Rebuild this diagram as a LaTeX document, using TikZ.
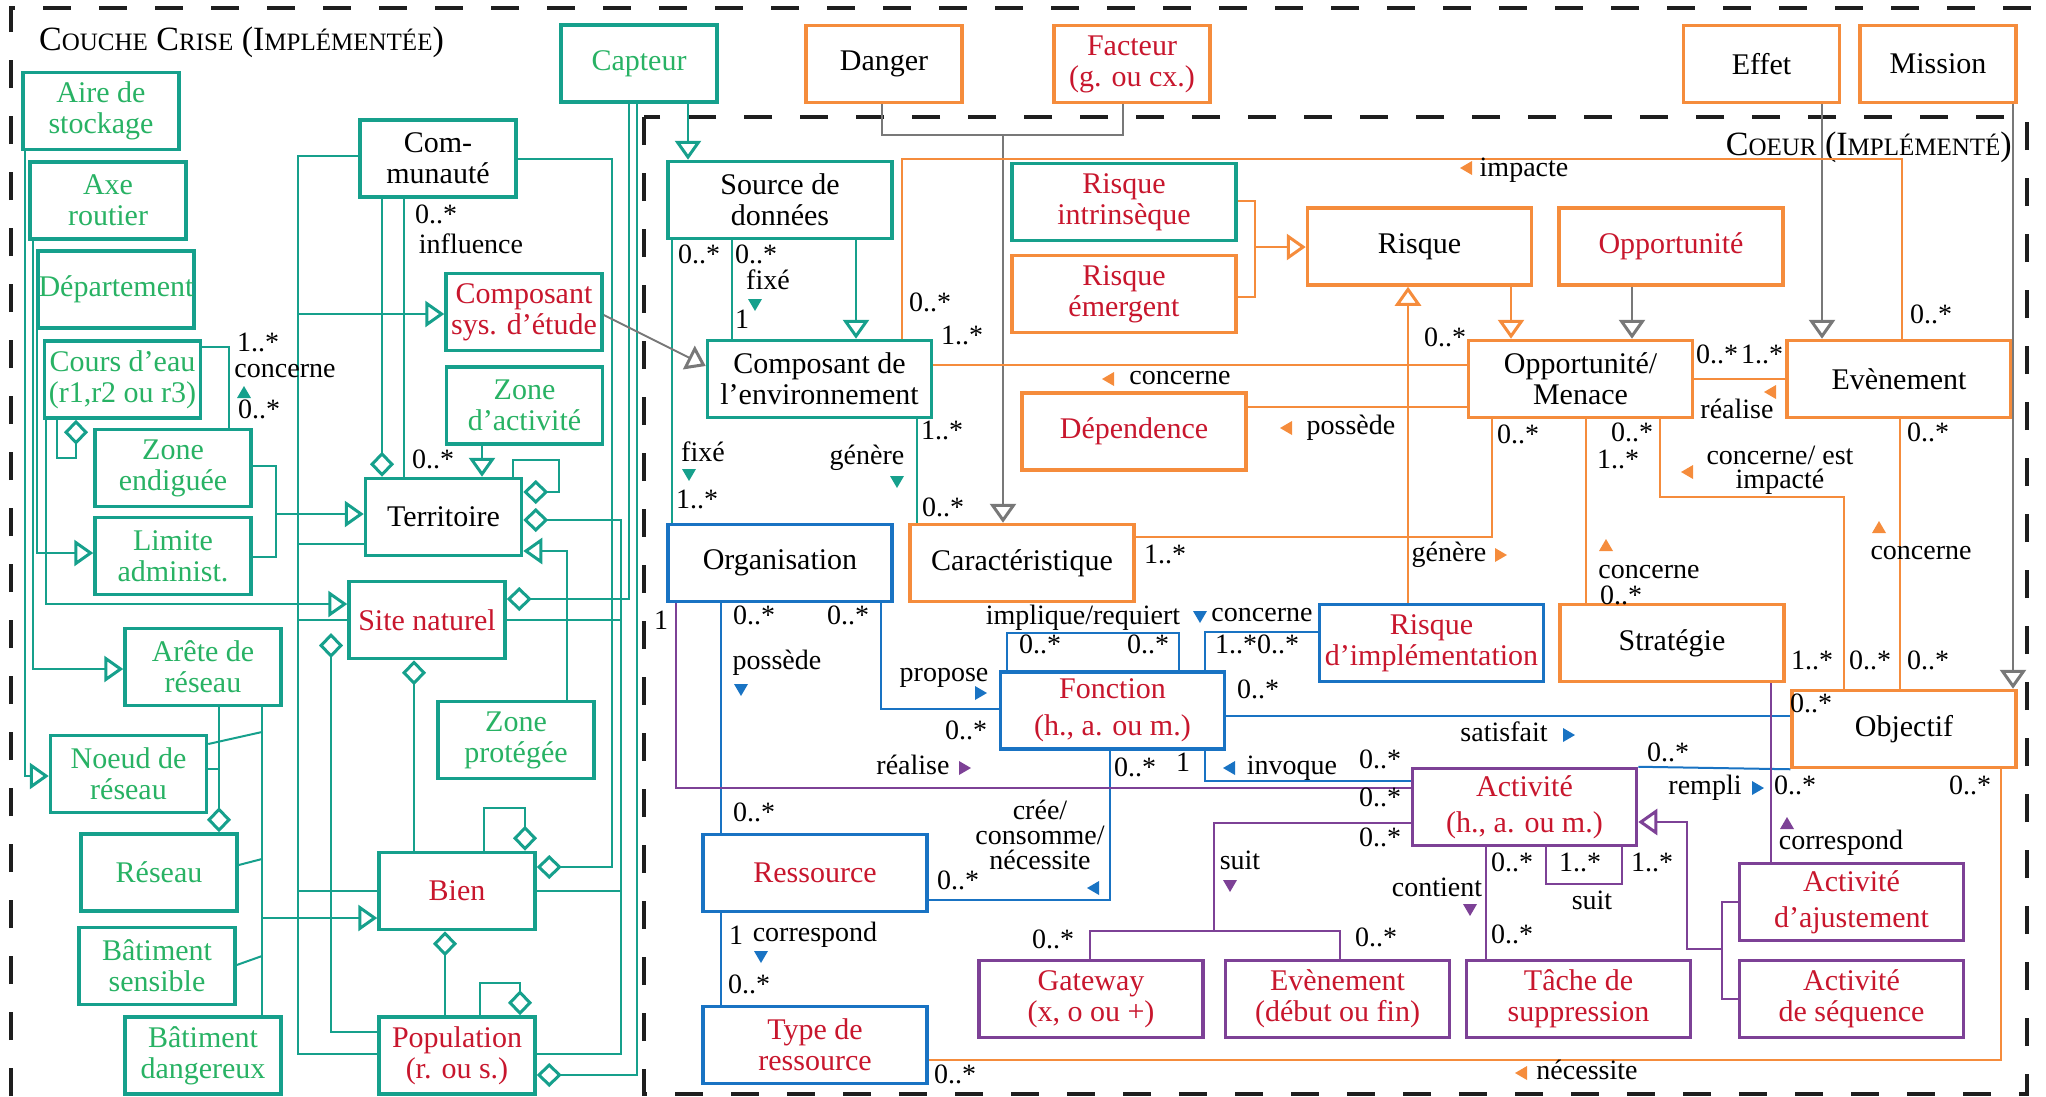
\documentclass[tikz,border=0pt]{standalone}
\usepackage{fontspec}
\setmainfont{Liberation Serif}
\usetikzlibrary{arrows.meta}
\definecolor{tealc}{RGB}{22,160,140}
\definecolor{greent}{RGB}{40,178,100}
\definecolor{redt}{RGB}{200,22,45}
\definecolor{orangec}{RGB}{245,140,60}
\definecolor{bluec}{RGB}{25,115,195}
\definecolor{purplec}{RGB}{125,65,150}
\definecolor{grayc}{RGB}{120,120,120}
\definecolor{dashc}{RGB}{30,30,30}
\newcommand\fsc[2]{#1{\fontsize{25}{25}\selectfont #2}}
\newcommand\mkR[3]{\fill[#3] (#1,#2) ++(6,0) -- ++(-12,-7) -- ++(0,14) -- cycle;}
\newcommand\mkL[3]{\fill[#3] (#1,#2) ++(-6,0) -- ++(12,-7) -- ++(0,14) -- cycle;}
\newcommand\mkD[3]{\fill[#3] (#1,#2) ++(0,6) -- ++(-7,-12) -- ++(14,0) -- cycle;}
\newcommand\mkU[3]{\fill[#3] (#1,#2) ++(0,-6) -- ++(-7,12) -- ++(14,0) -- cycle;}
\begin{document}
\begin{tikzpicture}[x=1pt,y=-1pt,
 box/.style={draw, fill=white, line width=3.5pt, align=center, inner sep=0pt, font=\fontsize{30}{31}\selectfont},
 sb/.style={box, minimum width=156pt, minimum height=77pt},
 lb/.style={box, minimum width=224pt, minimum height=77pt},
 tb/.style={draw=tealc}, ob/.style={draw=orangec}, bb/.style={draw=bluec}, pb/.style={draw=purplec},
 gt/.style={text=greent}, rt/.style={text=redt},
 lab/.style={inner sep=0pt, font=\fontsize{28}{29}\selectfont, text height=17pt, text depth=4pt},
 con/.style={line width=2pt},
 tl/.style={con, draw=tealc}, ol/.style={con, draw=orangec}, bl/.style={con, draw=bluec},
 pl/.style={con, draw=purplec}, gl/.style={con, draw=grayc},
 gen/.style={arrows={-Triangle[open,length=19pt,width=26pt,line width=3pt]}},
 agg/.style={arrows={Diamond[open,length=25pt,width=24pt,line width=3pt]-}},
 dsh/.style={draw=dashc, line width=3.5pt, dash pattern=on 28pt off 28pt}
]
\useasboundingbox (0,0) rectangle (2046,1096);
\draw[dsh] (11,1096) -- (11,8) -- (2032,8);
\draw[dsh] (644,117) rectangle (2027,1094);
\node[anchor=base west, inner sep=0pt] (ttl1) at (39,50) {\fontsize{34}{36}\selectfont\fsc{C}{OUCHE} \fsc{C}{RISE} \fsc{(I}{MPLÉMENTÉE})};
\node[anchor=base east, inner sep=0pt] (ttl2) at (2012,155) {\fontsize{34}{36}\selectfont\fsc{C}{OEUR} \fsc{(I}{MPLÉMENTÉ})};

% ---- Couche crise boxes
\node[sb,tb,gt] (aire) at (101,111) {Aire de\\stockage};
\node[sb,tb,gt] (axe) at (108,200.5) {Axe\\routier};
\node[sb,tb,gt] (dept) at (116,289.5) {Département};
\node[sb,tb,gt] (cours) at (122.5,379.5) {Cours d’eau\\(r1,r2 ou r3)};
\node[sb,tb] (communaute) at (438,158.5) {Com-\\munauté};
\node[sb,tb,rt] (compsys) at (524,312) {Composant\\sys. d’étude};
\node[sb,tb,gt] (capteur) at (639,63.5) {Capteur};
\node[sb,tb,gt] (zoneact) at (524.5,405.5) {Zone\\d’activité};
\node[sb,tb,gt] (zoneend) at (173,468) {Zone\\endiguée};
\node[sb,tb,gt] (limite) at (173,556) {Limite\\administ.};
\node[sb,tb] (territoire) at (443.5,517) {Territoire};
\node[sb,tb,rt] (site) at (427,620) {Site naturel};
\node[sb,tb,gt] (arete) at (203,667) {Arête de\\réseau};
\node[sb,tb,gt] (zoneprot) at (516,740) {Zone\\protégée};
\node[sb,tb,gt] (noeud) at (128.5,774) {Noeud de\\réseau};
\node[sb,tb,gt] (reseau) at (159,872.5) {Réseau};
\node[sb,tb,gt] (batsens) at (157,966) {Bâtiment\\sensible};
\node[sb,tb,gt] (batdang) at (203,1055.5) {Bâtiment\\dangereux};
\node[sb,tb,rt] (bien) at (457,891) {Bien};
\node[sb,tb,rt] (population) at (457,1055.5) {Population\\(r. ou s.)};

% ---- Core boxes
\node[sb,ob] (danger) at (884,64) {Danger};
\node[sb,ob,rt] (facteur) at (1132,64) {Facteur\\(g. ou cx.)};
\node[sb,ob] (effet) at (1761.5,64) {Effet};
\node[sb,ob] (mission) at (1938,64) {Mission};
\node[lb,tb] (source) at (780,200) {Source de\\données};
\node[lb,tb,rt] (rintr) at (1124,202) {Risque\\intrinsèque};
\node[lb,ob,rt] (remerg) at (1124,294) {Risque\\émergent};
\node[lb,ob] (risque) at (1419.5,246.5) {Risque};
\node[lb,ob,rt] (opportunite) at (1671,246.5) {Opportunité};
\node[lb,tb] (compenv) at (819.5,379) {Composant de\\l’environnement};
\node[lb,ob] (oppmen) at (1580.5,379) {Opportunité/\\Menace};
\node[lb,ob] (evenement) at (1899,379) {Evènement};
\node[lb,ob,rt] (dependence) at (1134,431.5) {Dépendence};
\node[lb,bb] (organisation) at (780,563) {Organisation};
\node[lb,ob] (caract) at (1022,563) {Caractéristique};
\node[lb,bb,rt] (risqimpl) at (1431.5,643) {Risque\\d’implémentation};
\node[lb,ob] (strategie) at (1672,643) {Stratégie};
\node[lb,bb,rt] (fonction) at (1112.5,710.5) {Fonction\\[6pt](h., a. ou m.)};
\node[lb,ob] (objectif) at (1904,729) {Objectif};
\node[lb,pb,rt] (activite) at (1524.5,807) {Activité\\[5pt](h., a. ou m.)};
\node[lb,bb,rt] (ressource) at (815,873) {Ressource};
\node[lb,bb,rt] (typeres) at (815,1045) {Type de\\ressource};
\node[lb,pb,rt] (gateway) at (1091,999) {Gateway\\(x, o ou +)};
\node[lb,pb,rt] (evdf) at (1337.5,999) {Evènement\\(début ou fin)};
\node[lb,pb,rt] (tache) at (1578.5,999) {Tâche de\\suppression};
\node[lb,pb,rt] (actajust) at (1851.5,902) {Activité\\[5pt]d’ajustement};
\node[lb,pb,rt] (actseq) at (1851.5,999) {Activité\\de séquence};

% ---- teal connectors
\draw[tl,gen] (aire.south -| 25,0) |- (noeud.west |- 0,776);
\draw[tl,gen] (axe.south -| 33,0) |- (arete.west |- 0,669);
\draw[tl,gen] (dept.south -| 37,0) |- (limite.west |- 0,553);
\draw[tl,gen] (cours.south -| 46,0) |- (site.west |- 0,604);
\draw[tl,agg] (cours.south -| 76,0) -- (76,458) -| (cours.south -| 57,0);
\draw[tl] (cours.east |- 0,347) -| (zoneend.north -| 229,0);
\draw[tl] (zoneend.east |- 0,466) -| (276,557) -- (limite.east |- 0,557);
\draw[tl,gen] (276,514) -- (territoire.west |- 0,514);
\draw[tl] (communaute.west |- 0,156) -| (298,1054) -- (population.west |- 0,1054);
\draw[tl,gen] (298,314) -- (compsys.west |- 0,314);
\draw[tl] (298,544) -- (territoire.west |- 0,544);
\draw[tl] (298,620) -- (site.west |- 0,620);
\draw[tl] (298,891) -- (bien.west |- 0,891);
\draw[tl,agg] (territoire.north -| 382,0) -- (communaute.south -| 382,0);
\draw[tl] (communaute.south -| 404,0) -- (territoire.north -| 404,0);
\draw[tl,gen] (zoneact.south -| 482,0) -- (territoire.north -| 482,0);
\draw[tl,agg] (territoire.east |- 0,492) -- (559,492) |- (513,460) -- (territoire.north -| 513,0);
\draw[tl,agg] (territoire.east |- 0,520) -| (621,1054) -- (population.east |- 0,1054);
\draw[tl] (site.east |- 0,620) -- (621,620);
\draw[tl] (bien.east |- 0,891) -- (621,891);
\draw[tl,gen] (zoneprot.north -| 567,0) |- (territoire.east |- 0,551);
\draw[tl,agg] (site.east |- 0,599) -| (capteur.south -| 629,0);
\draw[tl,agg] (population.east |- 0,1075) -| (capteur.south -| 637,0);
\draw[tl,agg] (bien.east |- 0,867) -| (612,159) -- (communaute.east |- 0,159);
\coordinate (sitediam) at (331,633);
\draw[tl,agg] (sitediam) -- (331,1032) -- (population.west |- 0,1032);
\draw[tl,agg] (site.south -| 414,0) -- (bien.north -| 414,0);
\draw[tl,agg] (bien.north -| 525,0) -- (525,808) -| (bien.north -| 484,0);
\draw[tl,agg] (bien.south -| 445,0) -- (population.north -| 445,0);
\draw[tl,agg] (population.north -| 520,0) -- (520,983) -| (population.north -| 480,0);
\draw[tl] (arete.south -| 262,0) -- (batdang.north -| 262,0);
\draw[tl,gen] (262,918) -- (bien.west |- 0,918);
\draw[tl] (noeud.east |- 0,744) -- (262,732);
\draw[tl] (reseau.east |- 0,865) -- (262,859);
\draw[tl] (batsens.east |- 0,965) -- (262,956);
\draw[tl,agg] (reseau.north -| 219,0) -- (arete.south -| 219,0);
\draw[tl] (noeud.east |- 0,769) -- (219,769);
\draw[tl,gen] (capteur.south -| 688,0) -- (source.north -| 688,0);
\draw[tl,gen] (source.south -| 856,0) -- (compenv.north -| 856,0);
\draw[tl] (source.south -| 732,0) -- (compenv.north -| 732,0);
\draw[tl] (source.south -| 672,0) -- (organisation.north -| 672,0);
\draw[tl] (compenv.south -| 917,0) -- (caract.north -| 917,0);

% ---- gray connectors
\draw[gl,gen] (compsys.east |- 0,315) -- (compenv.west |- 0,366);
\draw[gl] (danger.south -| 882,0) |- (1123,135) -- (facteur.south -| 1123,0);
\draw[gl,gen] (1003,135) -- (caract.north -| 1003,0);
\draw[gl,gen] (opportunite.south -| 1632,0) -- (oppmen.north -| 1632,0);
\draw[gl,gen] (effet.south -| 1822,0) -- (evenement.north -| 1822,0);
\draw[gl,gen] (mission.south -| 2013,0) -- (objectif.north -| 2013,0);

% ---- orange connectors
\draw[ol] (rintr.east |- 0,201) -| (1255,297) -- (remerg.east |- 0,297);
\draw[ol,gen] (1255,247) -- (risque.west |- 0,247);
\draw[ol,gen] (risque.south -| 1511,0) -- (oppmen.north -| 1511,0);
\draw[ol,gen] (risqimpl.north -| 1408,0) -- (risque.south -| 1408,0);
\draw[ol] (compenv.north -| 902,0) |- (1902,159) -- (evenement.north -| 1902,0);
\draw[ol] (compenv.east |- 0,365) -- (oppmen.west |- 0,365);
\draw[ol] (dependence.east |- 0,407) -- (oppmen.west |- 0,407);
\draw[ol] (caract.east |- 0,537) -| (oppmen.south -| 1492,0);
\draw[ol] (oppmen.east |- 0,379) -- (evenement.west |- 0,379);
\draw[ol] (oppmen.south -| 1586,0) -- (strategie.north -| 1586,0);
\draw[ol] (oppmen.south -| 1660,0) |- (1844,497) -- (objectif.north -| 1844,0);
\draw[ol] (evenement.south -| 1900,0) -- (objectif.north -| 1900,0);
\draw[ol] (typeres.east |- 0,1060) -| (objectif.south -| 2001,0);

% ---- blue connectors
\draw[bl] (organisation.south -| 721,0) -- (ressource.north -| 721,0);
\draw[bl] (organisation.south -| 881,0) |- (fonction.west |- 0,709);
\draw[bl] (fonction.north -| 1007,0) |- (1179,633) -- (fonction.north -| 1179,0);
\draw[bl] (fonction.north -| 1205,0) |- (risqimpl.west |- 0,632);
\draw[bl] (fonction.east |- 0,716) -- (objectif.west |- 0,716);
\draw[bl] (fonction.south -| 1205,0) |- (activite.west |- 0,781);
\draw[bl] (fonction.south -| 1110,0) |- (ressource.east |- 0,900);
\draw[bl] (ressource.south -| 721,0) -- (typeres.north -| 721,0);
\draw[bl] (activite.north east) -- (objectif.south west);

% ---- purple connectors
\draw[pl] (organisation.south -| 676,0) |- (activite.west |- 0,788);
\draw[pl] (activite.west |- 0,823) -| (1214,931);
\draw[pl] (gateway.north -| 1090,0) -- (1090,931) -- (1340,931) -- (evdf.north -| 1340,0);
\draw[pl] (activite.south -| 1486,0) -- (tache.north -| 1486,0);
\draw[pl] (activite.south -| 1546,0) |- (1622,884) -- (activite.south -| 1622,0);
\draw[pl] (actajust.west |- 0,902) -| (1722,999) -- (actseq.west |- 0,999);
\draw[pl,gen] (1722,949) -- (1687,949) -- (1687,822) -- (activite.east |- 0,822);
\draw[pl] (strategie.south -| 1771,0) -- (actajust.north -| 1771,0);

% ---- direction markers
\mkU{244}{392}{tealc} \mkD{755}{305}{tealc} \mkD{689}{475}{tealc} \mkD{897}{482}{tealc}
\mkL{1466}{168}{orangec} \mkL{1108}{379}{orangec} \mkL{1286}{428}{orangec} \mkR{1501}{555}{orangec}
\mkL{1770}{392}{orangec} \mkU{1606}{545}{orangec} \mkL{1687}{472}{orangec} \mkU{1879}{527}{orangec}
\mkL{1521}{1073}{orangec}
\mkD{741}{690}{bluec} \mkR{981}{693}{bluec} \mkD{1200}{617}{bluec} \mkL{1229}{768}{bluec}
\mkL{1093}{888}{bluec} \mkR{1569}{735}{bluec} \mkD{761}{957}{bluec} \mkR{1758}{788}{bluec}
\mkR{965}{768}{purplec} \mkD{1230}{886}{purplec} \mkD{1470}{910}{purplec} \mkU{1787}{823}{purplec}

% ---- labels
\node[lab] (n1) at (258,345) {1..*};
\node[lab] (n2) at (285,371) {concerne};
\node[lab] (n3) at (259,412) {0..*};
\node[lab] (n4) at (436,217) {0..*};
\node[lab] (n5) at (471,247) {influence};
\node[lab] (n6) at (433,462) {0..*};
\node[lab] (n7) at (699,257) {0..*};
\node[lab] (n8) at (756,257) {0..*};
\node[lab] (n9) at (768,283) {fixé};
\node[lab] (n10) at (742,322) {1};
\node[lab] (n11) at (703,455) {fixé};
\node[lab] (n12) at (697,502) {1..*};
\node[lab] (n13) at (942,433) {1..*};
\node[lab] (n14) at (867,458) {génère};
\node[lab] (n15) at (943,510) {0..*};
\node[lab] (n16) at (930,305) {0..*};
\node[lab] (n17) at (962,338) {1..*};
\node[lab] (n18) at (1524,170) {impacte};
\node[lab] (n19) at (1931,317) {0..*};
\node[lab] (n20) at (1180,378) {concerne};
\node[lab] (n21) at (1445,340) {0..*};
\node[lab] (n22) at (1351,428) {possède};
\node[lab] (n23) at (1165,557) {1..*};
\node[lab] (n24) at (1449,555) {génère};
\node[lab] (n25) at (1518,437) {0..*};
\node[lab] (n26) at (1717,357) {0..*};
\node[lab] (n27) at (1762,357) {1..*};
\node[lab] (n28) at (1737,412) {réalise};
\node[lab] (n29) at (1632,435) {0..*};
\node[lab] (n30) at (1618,462) {1..*};
\node[lab] (n31) at (1649,572) {concerne};
\node[lab] (n32) at (1621,598) {0..*};
\node[lab] (n33) at (1780,458) {concerne/ est};
\node[lab] (n34) at (1780,482) {impacté};
\node[lab] (n35) at (1870,663) {0..*};
\node[lab] (n36) at (1928,435) {0..*};
\node[lab] (n37) at (1921,553) {concerne};
\node[lab] (n38) at (1928,663) {0..*};
\node[lab] (n39) at (1812,663) {1..*};
\node[lab] (n40) at (1811,706) {0..*};
\node[lab] (n41) at (955,1077) {0..*};
\node[lab] (n42) at (1587,1073) {nécessite};
\node[lab] (n43) at (1970,788) {0..*};
\node[lab] (n44) at (661,623) {1};
\node[lab] (n45) at (754,618) {0..*};
\node[lab] (n46) at (777,663) {possède};
\node[lab] (n47) at (848,618) {0..*};
\node[lab] (n48) at (944,675) {propose};
\node[lab] (n49) at (966,733) {0..*};
\node[lab] (n50) at (1083,618) {implique/requiert};
\node[lab] (n51) at (1040,647) {0..*};
\node[lab] (n52) at (1148,647) {0..*};
\node[lab] (n53) at (1262,615) {concerne};
\node[lab] (n54) at (1236,647) {1..*};
\node[lab] (n55) at (1278,647) {0..*};
\node[lab] (n56) at (1258,692) {0..*};
\node[lab] (n57) at (1504,735) {satisfait};
\node[lab] (n58) at (1183,765) {1};
\node[lab] (n59) at (1292,768) {invoque};
\node[lab] (n60) at (1380,762) {0..*};
\node[lab] (n61) at (1135,770) {0..*};
\node[lab] (n62) at (1040,813) {crée/};
\node[lab] (n63) at (1040,838) {consomme/};
\node[lab] (n64) at (1040,863) {nécessite};
\node[lab] (n65) at (958,883) {0..*};
\node[lab] (n66) at (754,815) {0..*};
\node[lab] (n67) at (736,938) {1};
\node[lab] (n68) at (815,935) {correspond};
\node[lab] (n69) at (749,987) {0..*};
\node[lab] (n70) at (1668,755) {0..*};
\node[lab] (n71) at (1705,788) {rempli};
\node[lab] (n72) at (1795,788) {0..*};
\node[lab] (n73) at (913,768) {réalise};
\node[lab] (n74) at (1380,800) {0..*};
\node[lab] (n75) at (1380,840) {0..*};
\node[lab] (n76) at (1240,863) {suit};
\node[lab] (n77) at (1053,942) {0..*};
\node[lab] (n78) at (1376,940) {0..*};
\node[lab] (n79) at (1437,890) {contient};
\node[lab] (n80) at (1512,865) {0..*};
\node[lab] (n81) at (1512,937) {0..*};
\node[lab] (n82) at (1580,865) {1..*};
\node[lab] (n83) at (1652,865) {1..*};
\node[lab] (n84) at (1592,903) {suit};
\node[lab] (n85) at (1841,843) {correspond};
\end{tikzpicture}
\end{document}
